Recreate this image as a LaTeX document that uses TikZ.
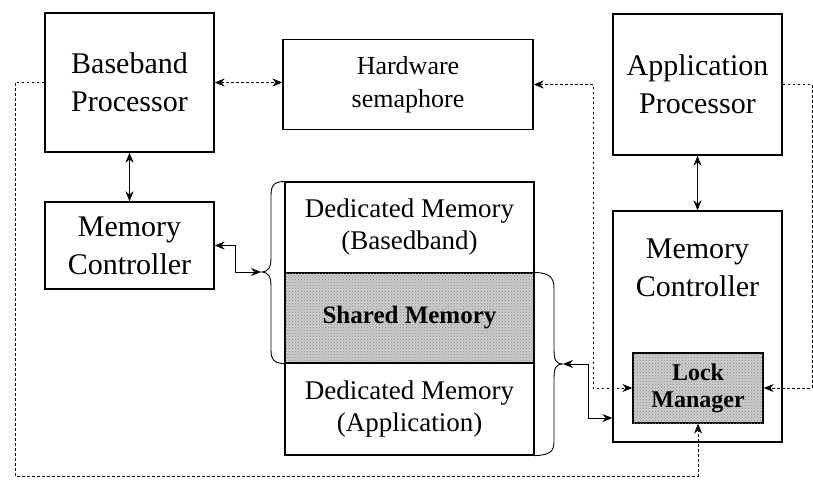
\documentclass[tikz,border=0pt]{standalone}
\usepackage{fontspec}
\setmainfont{Liberation Serif}
\usetikzlibrary{arrows.meta,patterns}
\begin{document}
\begin{tikzpicture}[x=1pt,y=-1pt,
  blk/.style={draw, line width=1.3pt, inner sep=0pt, align=center},
  shade/.style={fill=gray!40, postaction={pattern=crosshatch dots, pattern color=gray!90}},
  big/.style={font=\fontsize{30}{38}\selectfont},
  mid/.style={font=\fontsize{26}{33}\selectfont},
  tip/.style={-{Stealth[length=10pt,width=8pt]}},
  bitip/.style={{Stealth[length=10pt,width=8pt]}-{Stealth[length=10pt,width=8pt]}},
  link/.style={line width=0.9pt, dash pattern=on 2.5pt off 2.5pt},
  bus/.style={line width=1.3pt},
  thin/.style={line width=0.9pt},
  brc/.style={line width=0.9pt}
]
\useasboundingbox (0,0) rectangle (813,479);

% processors and controllers
\node[blk, big, minimum width=169pt, minimum height=139pt] (bb) at (129.5,82.5) {Baseband\\Processor};
\node[blk, mid, minimum width=250pt, minimum height=90pt] (sem) at (408,84.5) {Hardware\\semaphore};
\node[blk, big, minimum width=169pt, minimum height=141pt] (app) at (697.5,84.5) {Application\\Processor};
\node[blk, big, minimum width=169pt, minimum height=87pt] (mcl) at (129.5,245.5) {Memory\\Controller};
\node[blk, minimum width=169pt, minimum height=231pt] (mcr) at (697.5,326.5) {};
\node[big, align=center] (mcrtext) at (697.5,268) {Memory\\Controller};
\node[blk, shade, font=\bfseries\fontsize{24}{27}\selectfont, minimum width=130pt, minimum height=70pt] (lock) at (698,388) {Lock\\Manager};

% memory stack
\node[blk, font=\fontsize{27}{32}\selectfont, minimum width=249pt, minimum height=91pt] (ded1) at (409.5,227.5) {Dedicated Memory\\(Basedband)};
\node[blk, shade, font=\bfseries\fontsize{25}{30}\selectfont, minimum width=249pt, minimum height=90pt] (shm) at (409.5,318) {Shared Memory};
\node[blk, font=\fontsize{27}{32}\selectfont, minimum width=249pt, minimum height=92pt] (ded2) at (409.5,409) {Dedicated Memory\\(Application)};

% braces grouping the memory regions
\coordinate (lbr) at (261,272);
\coordinate (rbr) at (563,364);
\draw[brc] (ded1.north west) .. controls (273,182) and (271,186) .. (271,196) -- (271,258)
  .. controls (271,268) and (268,272) .. (lbr)
  .. controls (268,272) and (271,276) .. (271,286) -- (271,350)
  .. controls (271,360) and (274,363) .. (shm.south west);
\draw[brc] (shm.north east) .. controls (549,273) and (554,277) .. (554,288) -- (554,350)
  .. controls (554,360) and (556,364) .. (rbr)
  .. controls (556,364) and (554,368) .. (554,378) -- (554,442)
  .. controls (554,452) and (549,455) .. (ded2.south east);

% buses
\coordinate (mcin) at (mcr.west |- 0,418);
\draw[bus, bitip] (bb.south) -- (mcl.north);
\draw[bus, bitip] (app.south) -- (mcr.north);
\draw[thin, bitip] (mcl.east) -- (235,245.5) |- (lbr);
\draw[thin, bitip] (rbr) -- (588,364) |- (mcin);

% lock signalling
\draw[link, bitip] (bb.east) -- (bb.east -| sem.west);
\draw[link, bitip] (sem.east) -- (593,84.5) |- (lock.west);
\draw[link, tip] (app.east) -- (812,84.5) |- (lock.east);
\draw[link, tip] (bb.west) -- (15,82.5) -- (15,476) -| (lock.south);
\end{tikzpicture}
\end{document}
